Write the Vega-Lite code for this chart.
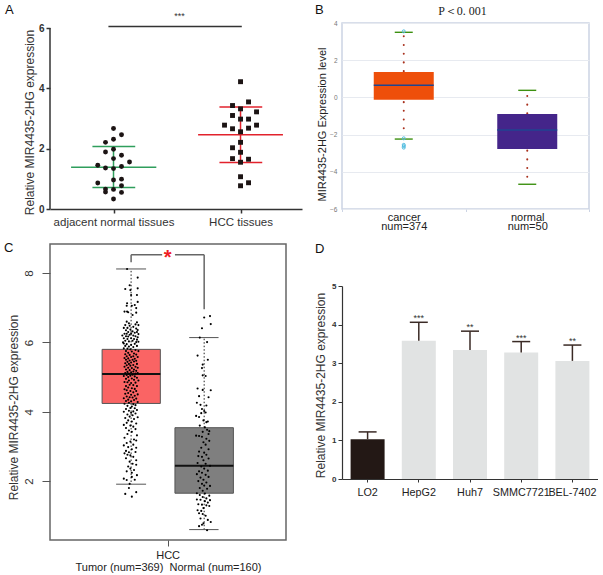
{"$schema":"https://vega.github.io/schema/vega-lite/v6.json","background":"white","padding":{"left":3,"top":3,"right":0,"bottom":0},"config":{"font":"Liberation Sans","view":{"stroke":null},"axis":{"grid":false,"labelOverlap":false}},
"resolve":{"scale":{"color":"independent","shape":"independent"}},
"datasets":{
"a_pts":[{"group":"normal","x":1,"y":2.67},{"group":"normal","x":1.063,"y":2.46},{"group":"normal","x":1,"y":2.31},{"group":"normal","x":0.937,"y":2.21},{"group":"normal","x":1,"y":1.98},{"group":"normal","x":0.937,"y":1.89},{"group":"normal","x":1.063,"y":1.78},{"group":"normal","x":1,"y":1.67},{"group":"normal","x":1.126,"y":1.56},{"group":"normal","x":0.876,"y":1.45},{"group":"normal","x":0.937,"y":1.36},{"group":"normal","x":1,"y":1.34},{"group":"normal","x":1.063,"y":1.41},{"group":"normal","x":1.063,"y":0.99},{"group":"normal","x":1,"y":0.96},{"group":"normal","x":0.876,"y":0.86},{"group":"normal","x":0.937,"y":0.66},{"group":"normal","x":1.063,"y":0.77},{"group":"normal","x":1,"y":0.65},{"group":"normal","x":0.937,"y":0.56},{"group":"normal","x":1.063,"y":0.55},{"group":"normal","x":1,"y":0.33},
{"group":"hcc","x":2,"y":4.22},{"group":"hcc","x":2.063,"y":3.55},{"group":"hcc","x":1.937,"y":3.43},{"group":"hcc","x":2,"y":3.32},{"group":"hcc","x":2.126,"y":3.22},{"group":"hcc","x":1.937,"y":3.1},{"group":"hcc","x":2,"y":2.98},{"group":"hcc","x":2.063,"y":2.98},{"group":"hcc","x":2.126,"y":2.78},{"group":"hcc","x":1.874,"y":2.78},{"group":"hcc","x":1.937,"y":2.66},{"group":"hcc","x":2.063,"y":2.68},{"group":"hcc","x":2,"y":2.56},{"group":"hcc","x":2,"y":2.21},{"group":"hcc","x":1.937,"y":2.03},{"group":"hcc","x":2,"y":1.88},{"group":"hcc","x":1.937,"y":1.67},{"group":"hcc","x":2.063,"y":1.65},{"group":"hcc","x":2,"y":1.55},{"group":"hcc","x":2,"y":1.07},{"group":"hcc","x":2.063,"y":0.87},{"group":"hcc","x":2,"y":0.77}],
"a_lines":[{"series":"normal","x":0.666,"x2":1.337,"y":1.38,"y2":1.38},{"series":"normal","x":0.834,"x2":1.171,"y":2.07,"y2":2.07},{"series":"normal","x":0.834,"x2":1.171,"y":0.71,"y2":0.71},{"series":"normal","x":1,"x2":1,"y":0.71,"y2":2.07},{"series":"hcc","x":1.666,"x2":2.334,"y":2.46,"y2":2.46},{"series":"hcc","x":1.834,"x2":2.171,"y":3.38,"y2":3.38},{"series":"hcc","x":1.834,"x2":2.171,"y":1.54,"y2":1.54},{"series":"hcc","x":2,"x2":2,"y":1.54,"y2":3.38},{"series":"frame","x":0.96,"x2":2.01,"y":6.05,"y2":6.05},{"series":"frame","x":0.5,"x2":0.5,"y":0,"y2":6}],
"b_box":[{"group":"cancer","q1":-0.12,"q3":1.37,"med":0.65,"wlo":-2.24,"whi":3.5,"du0":1.41,"du1":3.3,"dl0":-0.25,"dl1":-2.1},{"group":"normal","q1":-2.77,"q3":-0.89,"med":-1.75,"wlo":-4.67,"whi":0.38,"du0":-0.86,"du1":0.15,"dl0":-2.86,"dl1":-4.3}],
"b_out":[{"group":"cancer","y":3.55},{"group":"cancer","y":-2.2},{"group":"cancer","y":-2.55},{"group":"cancer","y":-2.62},{"group":"cancer","y":-2.7}],
"c_box":[{"group":"Tumor","c":1,"xl":0.603,"xr":1.4,"cl":0.795,"cr":1.205,"q1":4.24,"q3":5.8,"med":5.09,"wlo":1.91,"whi":8.12},{"group":"Normal","c":2,"xl":1.6,"xr":2.4,"cl":1.795,"cr":2.197,"q1":1.65,"q3":3.54,"med":2.44,"wlo":0.6,"whi":6.14}],
"c_bracket":[{"x":1,"x2":1,"y":8.31,"y2":8.53},{"x":1,"x2":1.425,"y":8.53,"y2":8.53},{"x":1.6,"x2":2,"y":8.53,"y2":8.53},{"x":2,"x2":2,"y":6.96,"y2":8.53}],
"c_pts":[{"x":0.945,"y":8.12},{"x":1.09,"y":7.87},{"x":0.98,"y":7.65},{"x":0.92,"y":7.54},{"x":0.99,"y":7.51},{"x":1.09,"y":7.56},{"x":1,"y":7.37},{"x":1.08,"y":7.37},{"x":0.945,"y":7.13},{"x":0.94,"y":7.06},{"x":1.09,"y":7.17},{"x":1.01,"y":7.06},{"x":1.05,"y":7.08},{"x":1.07,"y":6.99},{"x":0.91,"y":6.89},{"x":0.96,"y":6.87},{"x":0.945,"y":6.89},{"x":1.07,"y":6.86},{"x":1.02,"y":6.79},
{"x":0.94,"y":6.6},{"x":0.97,"y":6.55},{"x":1.08,"y":6.58},{"x":1.06,"y":6.52},{"x":0.92,"y":6.5},{"x":0.98,"y":6.48},{"x":1.1,"y":6.5},{"x":1.03,"y":6.45},{"x":0.9,"y":6.42},{"x":0.95,"y":6.42},{"x":1.07,"y":6.4},{"x":1.09,"y":6.36},{"x":0.93,"y":6.35},{"x":0.99,"y":6.37},{"x":0.96,"y":6.3},{"x":1.02,"y":6.32},{"x":1.05,"y":6.28},{"x":1.08,"y":6.3},{"x":0.91,"y":6.25},{"x":0.94,"y":6.25},{"x":0.98,"y":6.22},{"x":1,"y":6.26},{"x":1.1,"y":6.24},{"x":0.88,"y":6.2},{"x":0.93,"y":6.18},{"x":0.96,"y":6.17},{"x":1.03,"y":6.2},{"x":1.06,"y":6.18},{"x":1.09,"y":6.15},{"x":0.9,"y":6.12},{"x":0.95,"y":6.1},{"x":1,"y":6.12},{"x":1.04,"y":6.1},{"x":1.08,"y":6.08},{"x":0.92,"y":6.05},{"x":0.97,"y":6.03},{"x":1.02,"y":6.05},{"x":1.07,"y":6.01},{"x":0.89,"y":6},{"x":1.1,"y":6.02},
{"x":0.9,"y":5.97},{"x":0.94,"y":5.95},{"x":1,"y":5.93},{"x":1.05,"y":5.96},{"x":0.92,"y":5.9},{"x":0.97,"y":5.88},{"x":1.03,"y":5.87},{"x":1.08,"y":5.9},{"x":0.9,"y":5.83},{"x":0.95,"y":5.82},{"x":0.99,"y":5.8},{"x":1.06,"y":5.78},{"x":0.93,"y":5.75},{"x":1.01,"y":5.74},{"x":1.1,"y":5.75},{"x":0.96,"y":5.7},{"x":1.04,"y":5.68},{"x":0.92,"y":5.66},{"x":0.98,"y":5.64},{"x":1.07,"y":5.65},{"x":0.94,"y":5.6},{"x":1,"y":5.58},{"x":1.03,"y":5.6},{"x":1.09,"y":5.58},{"x":0.91,"y":5.55},{"x":0.96,"y":5.54},{"x":1.05,"y":5.53},{"x":0.93,"y":5.5},{"x":0.98,"y":5.48},{"x":1.02,"y":5.5},{"x":1.07,"y":5.47},{"x":0.95,"y":5.44},{"x":1,"y":5.42},{"x":1.04,"y":5.45},{"x":0.92,"y":5.4},{"x":0.97,"y":5.38},{"x":1.08,"y":5.38},{"x":0.94,"y":5.34},{"x":0.99,"y":5.33},{"x":1.03,"y":5.35},{"x":1.06,"y":5.3},{"x":0.91,"y":5.3},{"x":0.96,"y":5.27},{"x":1.01,"y":5.26},{"x":1.09,"y":5.27},{"x":0.93,"y":5.22},{"x":0.98,"y":5.2},{"x":1.04,"y":5.22},{"x":1.07,"y":5.18},{"x":0.95,"y":5.15},{"x":1,"y":5.14},{"x":1.03,"y":5.16},{"x":0.92,"y":5.12},{"x":0.97,"y":5.1},{"x":1.06,"y":5.1},{"x":1.09,"y":5.12},{"x":0.94,"y":5.06},{"x":0.99,"y":5.04},{"x":1.02,"y":5.07},{"x":1.05,"y":5.02},{"x":0.9,"y":5.03},{"x":0.96,"y":5},
{"x":1.08,"y":4.98},{"x":0.93,"y":4.95},{"x":1.01,"y":4.96},{"x":1.04,"y":4.92},{"x":0.97,"y":4.9},{"x":1.1,"y":4.9},{"x":0.91,"y":4.86},{"x":0.95,"y":4.85},{"x":1,"y":4.83},{"x":1.06,"y":4.84},{"x":0.98,"y":4.78},{"x":1.03,"y":4.77},{"x":0.93,"y":4.74},{"x":1.08,"y":4.74},{"x":0.96,"y":4.7},{"x":1.01,"y":4.68},{"x":1.05,"y":4.66},{"x":0.91,"y":4.65},{"x":0.94,"y":4.62},{"x":0.99,"y":4.6},{"x":1.07,"y":4.6},{"x":1.03,"y":4.56},{"x":0.96,"y":4.54},{"x":0.92,"y":4.52},{"x":1.09,"y":4.5},{"x":1,"y":4.49},{"x":1.05,"y":4.46},{"x":0.94,"y":4.44},{"x":0.98,"y":4.42},{"x":1.02,"y":4.41},{"x":0.9,"y":4.39},{"x":1.07,"y":4.38},{"x":0.96,"y":4.35},{"x":1.04,"y":4.34},{"x":0.93,"y":4.31},{"x":1,"y":4.3},{"x":1.09,"y":4.28},{"x":0.97,"y":4.26},{"x":0.91,"y":4.23},{"x":1.03,"y":4.22},{"x":1.06,"y":4.19},{"x":0.95,"y":4.17},{"x":1.01,"y":4.15},{"x":0.99,"y":4.11},{"x":1.05,"y":4.1},{"x":0.93,"y":4.08},{"x":1.08,"y":4.05},{"x":0.97,"y":4.03},{"x":1.03,"y":4.01},{"x":0.9,"y":4},{"x":1,"y":3.97},{"x":1.06,"y":3.95},{"x":0.95,"y":3.92},{"x":1.02,"y":3.9},{"x":0.98,"y":3.86},{"x":1.09,"y":3.84},{"x":0.92,"y":3.82},{"x":1.04,"y":3.79},{"x":0.96,"y":3.75},{"x":1.01,"y":3.72},{"x":0.94,"y":3.68},{"x":1.07,"y":3.66},{"x":0.9,"y":3.62},{"x":0.99,"y":3.6},{"x":1.03,"y":3.57},{"x":0.93,"y":3.53},{"x":1.06,"y":3.5},{"x":0.97,"y":3.46},{"x":1.01,"y":3.42},{"x":0.95,"y":3.36},{"x":1.08,"y":3.32},{"x":0.91,"y":3.25},{"x":1.04,"y":3.2},{"x":1.07,"y":3.17},{"x":0.99,"y":3.14},{"x":0.94,"y":3.1},{"x":1.03,"y":3.05},{"x":0.9,"y":3.03},{"x":0.96,"y":2.98},{"x":1.07,"y":2.96},{"x":1.01,"y":2.92},{"x":0.93,"y":2.87},{"x":0.97,"y":2.83},{"x":1.06,"y":2.84},{"x":0.91,"y":2.8},{"x":0.95,"y":2.76},{"x":0.99,"y":2.74},{"x":1.03,"y":2.7},{"x":0.93,"y":2.66},{"x":1.07,"y":2.6},{"x":0.98,"y":2.56},{"x":1.02,"y":2.5},{"x":1.07,"y":2.47},{"x":0.96,"y":2.42},{"x":0.99,"y":2.36},{"x":1.04,"y":2.32},{"x":0.94,"y":2.28},{"x":1.01,"y":2.24},{"x":1.08,"y":2.17},{"x":1.01,"y":2.12},{"x":0.9,"y":2.07},{"x":0.94,"y":2.03},{"x":1.05,"y":2.04},{"x":0.98,"y":1.92},{"x":0.92,"y":1.63},{"x":0.97,"y":1.8},{"x":1.07,"y":1.68},{"x":1.01,"y":1.55},
{"x":2,"y":6.72},{"x":2.08,"y":6.76},{"x":2.09,"y":6.53},{"x":1.97,"y":6.41},{"x":1.94,"y":6.14},{"x":2.04,"y":6.01},{"x":1.91,"y":5.62},{"x":2.05,"y":5.5},{"x":1.98,"y":5.36},{"x":1.97,"y":5.26},{"x":1.98,"y":5.05},{"x":2.02,"y":5.03},{"x":1.91,"y":4.67},{"x":1.98,"y":4.63},{"x":2.09,"y":4.62},{"x":1.93,"y":4.45},{"x":2.06,"y":4.42},{"x":1.9,"y":4.26},{"x":1.95,"y":4.2},{"x":2.03,"y":4.18},{"x":1.97,"y":4.08},{"x":2,"y":4.02},{"x":2.02,"y":3.98},{"x":1.96,"y":3.96},{"x":1.89,"y":3.88},{"x":1.93,"y":3.85},{"x":2.05,"y":3.72},{"x":1.99,"y":3.75},{"x":2.03,"y":3.7},{"x":1.94,"y":3.6},{"x":2.01,"y":3.55},{"x":2.04,"y":3.48},{"x":2.07,"y":3.44},{"x":1.98,"y":3.42},{"x":2.06,"y":3.36},{"x":1.89,"y":3.31},{"x":1.93,"y":3.3},{"x":1.97,"y":3.28},{"x":2.03,"y":3.22},{"x":2.07,"y":3.16},{"x":1.99,"y":3.12},{"x":2.02,"y":3.05},{"x":1.96,"y":2.96},{"x":2.06,"y":2.92},{"x":1.93,"y":2.85},{"x":2,"y":2.82},{"x":2.03,"y":2.76},{"x":1.92,"y":2.72},{"x":1.97,"y":2.7},{"x":2.06,"y":2.65},{"x":1.99,"y":2.6},{"x":1.91,"y":2.52},{"x":2.02,"y":2.5},{"x":2.08,"y":2.44},{"x":1.96,"y":2.42},{"x":2,"y":2.36},{"x":2.05,"y":2.3},{"x":1.93,"y":2.28},{"x":1.97,"y":2.24},{"x":1.9,"y":2.2},{"x":2.02,"y":2.18},{"x":2.06,"y":2.12},{"x":1.95,"y":2.1},{"x":1.99,"y":2.04},{"x":1.92,"y":2},{"x":2.03,"y":1.96},{"x":1.97,"y":1.92},{"x":2,"y":1.87},{"x":2.08,"y":1.86},{"x":1.94,"y":1.8},{"x":2.04,"y":1.78},{"x":1.98,"y":1.72},{"x":1.9,"y":1.65},{"x":2.01,"y":1.64},{"x":1.94,"y":1.6},{"x":2.07,"y":1.58},{"x":1.98,"y":1.54},{"x":2.03,"y":1.5},{"x":1.9,"y":1.47},{"x":1.95,"y":1.46},{"x":2.08,"y":1.45},{"x":2.01,"y":1.42},{"x":2.05,"y":1.38},{"x":1.92,"y":1.33},{"x":1.97,"y":1.32},{"x":2.03,"y":1.3},{"x":2.07,"y":1.28},{"x":1.99,"y":1.22},{"x":1.91,"y":1.16},{"x":1.96,"y":1.14},{"x":1.93,"y":1.07},{"x":1.98,"y":1.05},{"x":2.02,"y":1},{"x":1.95,"y":0.92},{"x":2.05,"y":0.88},{"x":2.09,"y":0.82},{"x":1.99,"y":0.78},{"x":1.93,"y":0.7},{"x":1.97,"y":0.74},{"x":2.04,"y":0.58}],
"d_bars":[{"line":"LO2","value":1.03,"err":1.22,"stars":""},{"line":"HepG2","value":3.58,"err":4.06,"stars":"***"},{"line":"Huh7","value":3.34,"err":3.83,"stars":"**"},{"line":"SMMC7721","value":3.28,"err":3.56,"stars":"***"},{"line":"BEL-7402","value":3.06,"err":3.47,"stars":"**"}]
},
"spacing":12,
"hconcat":[
{"resolve":{"scale":{"color":"independent","shape":"independent"}},"vconcat":[
{"width":252,"height":186,
"layer":[
{"data":{"name":"a_lines"},"mark":{"type":"rule","strokeWidth":1.5},"encoding":{
"x":{"field":"x","type":"quantitative","scale":{"domain":[0.5,2.484],"nice":false,"zero":false},"axis":{"values":[1,2],"labelExpr":"datum.value==1?'adjacent normal tissues':'HCC tissues'","title":null,"labelFontSize":11.5,"labelColor":"#333","tickColor":"#333","domainColor":"#333","domainWidth":1.5,"tickWidth":1.5,"tickSize":4,"labelPadding":3}},
"x2":{"field":"x2"},
"y":{"field":"y","type":"quantitative","scale":{"domain":[0,6.166],"nice":false},"axis":{"values":[0,2,4,6],"title":"Relative MIR4435-2HG expression","titleY":99,"titleFontSize":12,"titleFontWeight":"normal","titleColor":"#333","labelFontSize":10,"labelFontWeight":"bold","labelColor":"#333","domain":false,"tickColor":"#333","tickWidth":1.5,"tickSize":4,"titlePadding":2}},
"y2":{"field":"y2"},
"color":{"field":"series","type":"nominal","legend":null,"scale":{"domain":["normal","hcc","frame"],"range":["#2f9e5c","#e2222c","#333333"]}}}},
{"data":{"name":"a_pts"},"mark":{"type":"point","filled":true,"opacity":1,"size":24,"color":"#1c1414"},"encoding":{
"x":{"field":"x","type":"quantitative"},"y":{"field":"y","type":"quantitative"},
"shape":{"field":"group","type":"nominal","legend":null,"scale":{"domain":["normal","hcc"],"range":["circle","square"]}}}},
{"data":{"values":[{"x":1.52,"y":6.4,"t":"***"}]},"mark":{"type":"text","fontSize":9,"color":"#333"},"encoding":{"x":{"field":"x","type":"quantitative"},"y":{"field":"y","type":"quantitative"},"text":{"field":"t"}}},
{"data":{"values":[{"x":0.5,"y":6.6,"t":"A"}]},"mark":{"type":"text","fontSize":13,"color":"#111","align":"left","dx":-45},"encoding":{"x":{"field":"x","type":"quantitative"},"y":{"field":"y","type":"quantitative"},"text":{"field":"t"}}}
]},
{"width":236,"height":296,"view":{"stroke":"#666","strokeWidth":1.5},
"layer":[
{"data":{"name":"c_box"},"mark":{"type":"rule","strokeDash":[1.5,2],"color":"#222"},"encoding":{
"x":{"field":"c","type":"quantitative","scale":{"domain":[-0.11,3.12],"nice":false,"zero":false},"axis":{"values":[1.5],"labelExpr":"'HCC'","title":"Tumor (num=369) \u00a0Normal (num=160)","titleFontSize":11,"titleFontWeight":"normal","titleColor":"#222","titlePadding":1,"labelFontSize":11,"labelColor":"#222","domain":false,"tickColor":"#555","tickSize":6,"labelPadding":3}},
"y":{"field":"q3","type":"quantitative","scale":{"domain":[0.3,8.84],"nice":false,"zero":false},"axis":{"values":[2,4,6,8],"tickCount":8,"format":"d","labelAngle":-90,"labelFontSize":11.5,"labelColor":"#333","domain":false,"tickColor":"#555","tickSize":8,"title":"Relative MIR4435-2HG expression","titleY":163,"titleFontSize":12,"titleFontWeight":"normal","titleColor":"#333","titlePadding":3,"labelPadding":8}},
"y2":{"field":"whi"}}},
{"data":{"name":"c_box"},"mark":{"type":"rule","strokeDash":[1.5,2],"color":"#222"},"encoding":{"x":{"field":"c","type":"quantitative"},"y":{"field":"q1","type":"quantitative"},"y2":{"field":"wlo"}}},
{"data":{"name":"c_box"},"mark":{"type":"rule","color":"#555"},"encoding":{"x":{"field":"cl","type":"quantitative"},"x2":{"field":"cr"},"y":{"field":"whi","type":"quantitative"}}},
{"data":{"name":"c_box"},"mark":{"type":"rule","color":"#555"},"encoding":{"x":{"field":"cl","type":"quantitative"},"x2":{"field":"cr"},"y":{"field":"wlo","type":"quantitative"}}},
{"data":{"name":"c_box"},"mark":{"type":"bar","stroke":"#555","strokeWidth":1},"encoding":{"x":{"field":"xl","type":"quantitative"},"x2":{"field":"xr"},"y":{"field":"q1","type":"quantitative"},"y2":{"field":"q3"},"color":{"field":"group","type":"nominal","legend":null,"scale":{"domain":["Tumor","Normal"],"range":["#fa6464","#7f7f7f"]}}}},
{"data":{"name":"c_box"},"mark":{"type":"rule","color":"#111","strokeWidth":2},"encoding":{"x":{"field":"xl","type":"quantitative"},"x2":{"field":"xr"},"y":{"field":"med","type":"quantitative"}}},
{"data":{"name":"c_pts"},"mark":{"type":"circle","size":4.5,"color":"#000","opacity":1},"encoding":{"x":{"field":"x","type":"quantitative"},"y":{"field":"y","type":"quantitative"}}},
{"data":{"name":"c_bracket"},"mark":{"type":"rule","color":"#666","strokeWidth":1.5},"encoding":{"x":{"field":"x","type":"quantitative"},"x2":{"field":"x2"},"y":{"field":"y","type":"quantitative"},"y2":{"field":"y2"}}},
{"data":{"values":[{"x":1.5,"y":8.53,"t":"*"}]},"mark":{"type":"text","fontSize":20,"fontWeight":"bold","color":"#f01c24","dy":3},"encoding":{"x":{"field":"x","type":"quantitative"},"y":{"field":"y","type":"quantitative"},"text":{"field":"t"}}},
{"data":{"values":[{"x":-0.11,"y":8.72,"t":"C"}]},"mark":{"type":"text","fontSize":13,"color":"#111","align":"left","dx":-46},"encoding":{"x":{"field":"x","type":"quantitative"},"y":{"field":"y","type":"quantitative"},"text":{"field":"t"}}}
]}
],"spacing":35,"bounds":"flush"},
{"resolve":{"scale":{"color":"independent","shape":"independent"}},"vconcat":[
{"width":247,"height":186,"view":{"stroke":"#ccd4e4","strokeWidth":1.5},
"layer":[
{"data":{"name":"b_box"},"mark":{"type":"rule","strokeDash":[0.1,8.6],"strokeCap":"round","strokeWidth":2,"color":"#a8301c"},"encoding":{
"x":{"field":"group","type":"nominal","scale":{"domain":["cancer","normal"],"paddingInner":0,"paddingOuter":0},"axis":{"labelExpr":"datum.label=='cancer'?['cancer','num=374']:datum.label=='normal'?['normal','num=50']:''","labelAngle":0,"title":null,"tickBand":"extent","labelFontSize":11,"labelColor":"#222","labelLineHeight":9,"domain":false,"tickColor":"#ccd4e4","tickSize":2.5,"labelPadding":0}},
"y":{"field":"du0","type":"quantitative","scale":{"domain":[-6,4],"nice":false,"zero":false},"axis":{"values":[-6,-4,-2,0,2,4],"tickCount":10,"format":"d","grid":true,"gridColor":"#e7eaf0","gridWidth":1,"domain":false,"ticks":false,"labelFontSize":6.5,"labelColor":"#777","labelPadding":5,"title":"MIR4435-2HG Expression level","titleY":101,"titleFontSize":11,"titleFontWeight":"normal","titleColor":"#222","titlePadding":2}},
"y2":{"field":"du1"}}},
{"data":{"name":"b_box"},"mark":{"type":"rule","strokeDash":[0.1,8.6],"strokeCap":"round","strokeWidth":2,"color":"#a8301c"},"encoding":{"x":{"field":"group","type":"nominal"},"y":{"field":"dl0","type":"quantitative"},"y2":{"field":"dl1"}}},
{"data":{"name":"b_box"},"mark":{"type":"bar","size":60},"encoding":{"x":{"field":"group","type":"nominal"},"y":{"field":"q1","type":"quantitative"},"y2":{"field":"q3"},"color":{"field":"group","type":"nominal","legend":null,"scale":{"domain":["cancer","normal"],"range":["#ee4f0a","#44258a"]}}}},
{"data":{"name":"b_box"},"mark":{"type":"tick","size":60,"thickness":1.6,"color":"#1f4590","opacity":1},"encoding":{"x":{"field":"group","type":"nominal"},"y":{"field":"med","type":"quantitative"}}},
{"data":{"name":"b_box"},"mark":{"type":"tick","size":18,"thickness":1.4,"color":"#3c9010","opacity":1},"encoding":{"x":{"field":"group","type":"nominal"},"y":{"field":"whi","type":"quantitative"}}},
{"data":{"name":"b_box"},"mark":{"type":"tick","size":18,"thickness":1.4,"color":"#3c9010","opacity":1},"encoding":{"x":{"field":"group","type":"nominal"},"y":{"field":"wlo","type":"quantitative"}}},
{"data":{"name":"b_out"},"mark":{"type":"point","size":9,"color":"#52bde0","strokeWidth":1,"opacity":1},"encoding":{"x":{"field":"group","type":"nominal"},"y":{"field":"y","type":"quantitative"}}},
{"data":{"values":[{"g":"cancer","y":4.65,"t":"P＜0. 001"}]},"mark":{"type":"text","font":"Liberation Serif","fontSize":12,"color":"#222","dx":-3},"encoding":{"x":{"field":"g","type":"nominal","bandPosition":1},"y":{"field":"y","type":"quantitative"},"text":{"field":"t"}}},
{"data":{"values":[{"g":"cancer","y":4.7,"t":"B"}]},"mark":{"type":"text","fontSize":13,"color":"#111","align":"left","dx":-27},"encoding":{"x":{"field":"g","type":"nominal","bandPosition":0},"y":{"field":"y","type":"quantitative"},"text":{"field":"t"}}}
]},
{"width":256,"height":193,
"layer":[
{"data":{"name":"d_bars"},"mark":{"type":"bar","size":34},"encoding":{
"x":{"field":"line","type":"nominal","scale":{"domain":["LO2","HepG2","Huh7","SMMC7721","BEL-7402"],"paddingInner":0,"paddingOuter":0},"axis":{"title":null,"labelAngle":0,"labelFontSize":10.8,"labelColor":"#222","domainColor":"#333","domainWidth":1.2,"tickColor":"#333","tickSize":3,"labelPadding":4}},
"y":{"field":"value","type":"quantitative","scale":{"domain":[0,5],"nice":false},"axis":{"values":[0,1,2,3,4,5],"tickCount":10,"format":"d","labelFontSize":8,"labelFontWeight":"bold","labelColor":"#333","domainColor":"#333","domainWidth":1.2,"tickColor":"#333","tickSize":4,"labelPadding":2,"title":"Relative MIR4435-2HG expression","titleY":99,"titleFontSize":12,"titleFontWeight":"normal","titleColor":"#333","titlePadding":4}},
"color":{"field":"line","type":"nominal","legend":null,"scale":{"domain":["LO2","HepG2","Huh7","SMMC7721","BEL-7402"],"range":["#231815","#e1e3e3","#e1e3e3","#e1e3e3","#e1e3e3"]}}}},
{"data":{"name":"d_bars"},"mark":{"type":"rule","color":"#3a2a25","strokeWidth":1.5},"encoding":{"x":{"field":"line","type":"nominal"},"y":{"field":"value","type":"quantitative"},"y2":{"field":"err"}}},
{"data":{"name":"d_bars"},"mark":{"type":"tick","size":18,"thickness":1.5,"color":"#3a2a25","opacity":1},"encoding":{"x":{"field":"line","type":"nominal"},"y":{"field":"err","type":"quantitative"}}},
{"data":{"name":"d_bars"},"mark":{"type":"text","fontSize":9,"color":"#333","dy":-4},"encoding":{"x":{"field":"line","type":"nominal"},"y":{"field":"err","type":"quantitative"},"text":{"field":"stars"}}},
{"data":{"values":[{"g":"LO2","y":5.96,"t":"D"}]},"mark":{"type":"text","fontSize":13,"color":"#111","align":"left","dx":-27},"encoding":{"x":{"field":"g","type":"nominal","bandPosition":0},"y":{"field":"y","type":"quantitative"},"text":{"field":"t"}}}
]}
],"spacing":77,"bounds":"flush"}
]}
